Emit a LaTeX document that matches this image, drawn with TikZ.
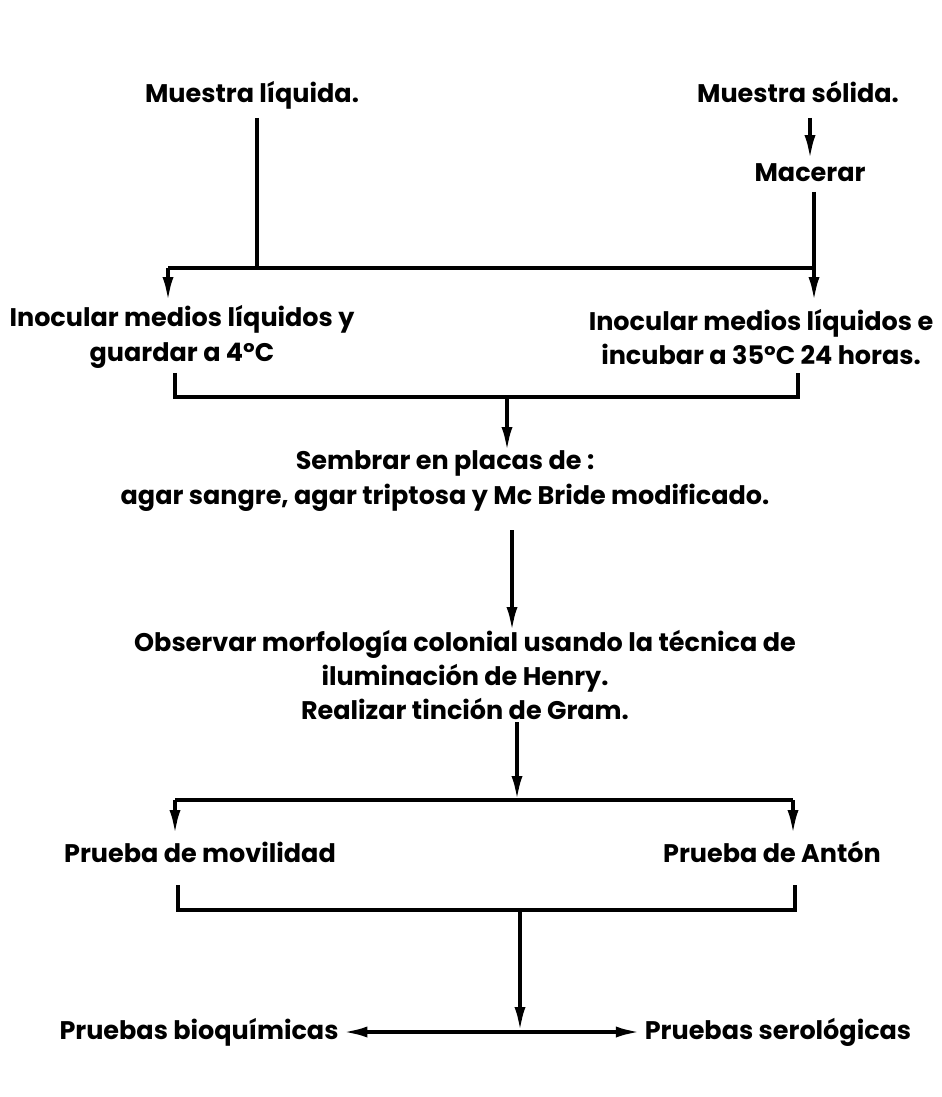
\documentclass[tikz,border=0pt]{standalone}
\usepackage{fontspec}
\setmainfont{Poppins}
\usetikzlibrary{arrows.meta,calc,positioning}

\begin{document}
\begin{tikzpicture}[
      x=0.02cm, y=-0.02cm,
      step label/.style={
        font=\bfseries\fontsize{14.5}{19.5}\selectfont,
        align=center,
        inner sep=2pt
      },
      flow/.style={line width=2.2pt, draw=black},
      arrow/.style={flow, -{Latex[length=5mm, width=2.2mm]}}
    ]
    \useasboundingbox (0,0) rectangle (941,1097);

    \node[step label] (liquida) at (252,95) {Muestra líquida.};
    \node[step label] (solida) at (798,92) {Muestra sólida.};
    \node[step label] (macerar) at (810,173) {Macerar};
    \node[step label] (guardar) at (182,337) {Inocular medios líquidos y\\guardar a 4ºC};
    \node[step label] (incubar) at (761,337) {Inocular medios líquidos e\\incubar a 35ºC 24 horas.};
    \node[step label] (sembrar) at (445,481) {Sembrar en placas de :\\agar sangre, agar triptosa y Mc Bride modificado.};
    \node[step label] (observar) at (465,675) {Observar morfología colonial usando la técnica de\\iluminación de Henry.\\Realizar tinción de Gram.};
    \node[step label] (movilidad) at (200,852) {Prueba de movilidad};
    \node[step label] (anton) at (772,852) {Prueba de Antón};
    \node[step label] (bioquimicas) at (199,1032) {Pruebas bioquímicas};
    \node[step label] (serologicas) at (778,1032) {Pruebas serológicas};

    \coordinate (splitL) at (168,268);
    \coordinate (splitR) at (814,268);
    \coordinate (joinL) at (175,397);
    \coordinate (joinR) at (798,397);
    \coordinate (forkL) at (175,800);
    \coordinate (forkR) at (793,800);
    \coordinate (mergeL) at (178,910);
    \coordinate (mergeR) at (795,910);
    \coordinate (tee) at (520,1032);

    % muestras
    \draw[flow] (257,118) -- (257,268);
    \draw[arrow] (810,118) -- (macerar.north -| 810,0);
    \draw[flow] (814,192) -- (splitR);
    \draw[flow] (splitL) -- (splitR);
    \draw[arrow] (splitL) -- (168,302);
    \draw[arrow] (splitR) -- (814,302);

    % siembra
    \draw[flow] (175,373) -- (joinL) -- (joinR) -- (798,373);
    \draw[arrow] (507,397) -- (507,452);
    \draw[arrow] (512,530) -- (512,632);

    % pruebas
    \draw[arrow] (517,722) -- (517,801);
    \draw[flow] (forkL) -- (forkR);
    \draw[arrow] (forkL) -- (175,835);
    \draw[arrow] (forkR) -- (793,835);
    \draw[flow] (178,885) -- (mergeL) -- (mergeR) -- (795,885);
    \draw[arrow] (520,910) -- (tee);
    \draw[arrow] (tee) -- (bioquimicas.east);
    \draw[arrow] (tee) -- (serologicas.west);
  \end{tikzpicture}
\end{document}
